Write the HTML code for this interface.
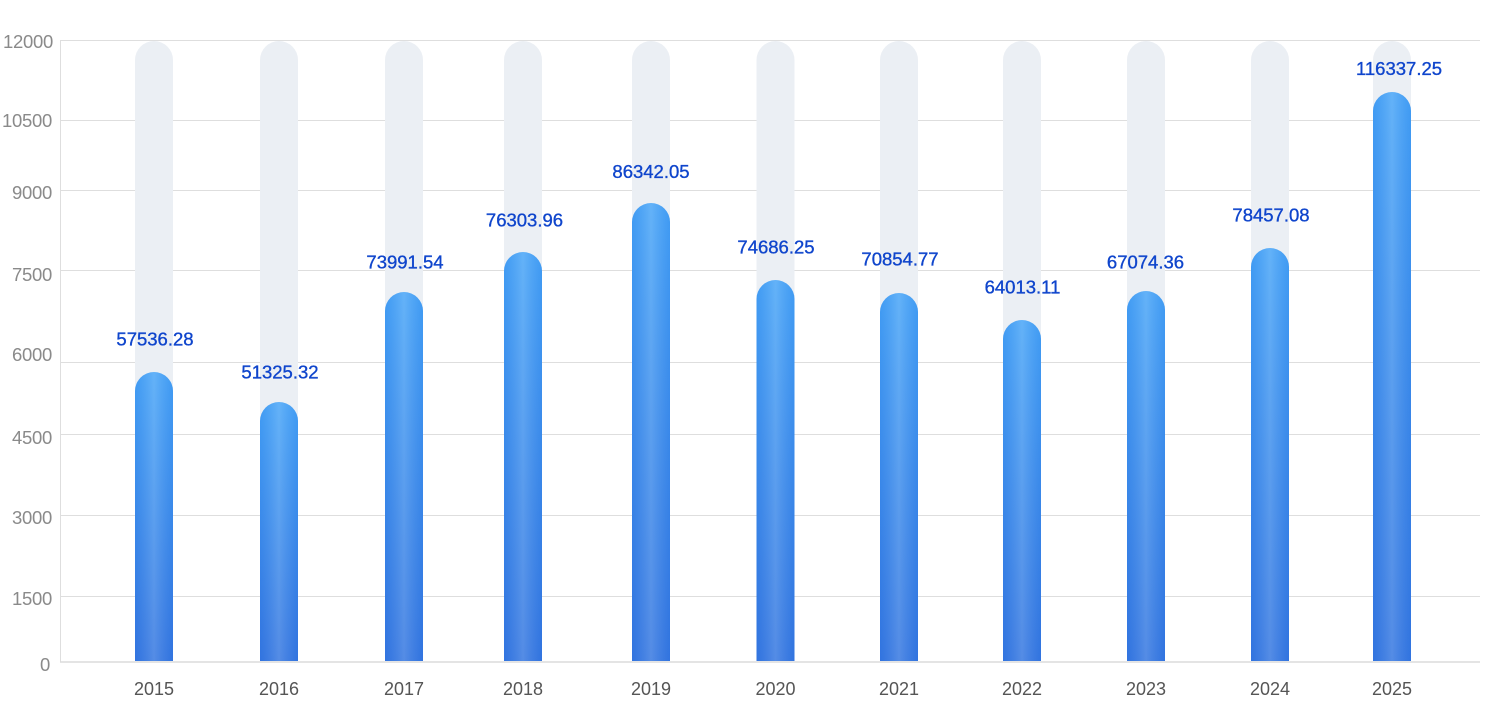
<!DOCTYPE html>
<html><head><meta charset="utf-8"><style>
html,body{margin:0;padding:0;background:#fff;}
svg{display:block;}
.yl{font-family:"Liberation Sans",sans-serif;font-size:18.5px;fill:#8a8a8a;letter-spacing:-0.3px;}
.xl{font-family:"Liberation Sans",sans-serif;font-size:18px;fill:#555;}
.vl{font-family:"Liberation Sans",sans-serif;font-size:18.5px;fill:#0f45cc;stroke:#0f45cc;stroke-width:0.35px;}
</style></head><body>
<svg width="1494" height="710" viewBox="0 0 1494 710" xmlns="http://www.w3.org/2000/svg">
<defs>
<linearGradient id="gv" x1="0" y1="0" x2="0" y2="1">
<stop offset="0" stop-color="#46a4f7"/>
<stop offset="1" stop-color="#3476e0"/>
</linearGradient>
<linearGradient id="gh" x1="0" y1="0" x2="1" y2="0">
<stop offset="0" stop-color="#1a5fd8" stop-opacity="0.12"/>
<stop offset="0.5" stop-color="#ffffff" stop-opacity="0.16"/>
<stop offset="1" stop-color="#1a5fd8" stop-opacity="0.12"/>
</linearGradient>
</defs>
<g stroke="#dedede" stroke-width="1">
<line x1="60" y1="40.5" x2="1480" y2="40.5"/>
<line x1="60" y1="120.5" x2="1480" y2="120.5"/>
<line x1="60" y1="190.5" x2="1480" y2="190.5"/>
<line x1="60" y1="270.5" x2="1480" y2="270.5"/>
<line x1="60" y1="362.5" x2="1480" y2="362.5"/>
<line x1="60" y1="434.5" x2="1480" y2="434.5"/>
<line x1="60" y1="515.5" x2="1480" y2="515.5"/>
<line x1="60" y1="596.5" x2="1480" y2="596.5"/>
<line x1="60.5" y1="40" x2="60.5" y2="662"/>
</g>
<g class="yl" text-anchor="end">
<text x="53" y="48">12000</text>
<text x="52" y="127">10500</text>
<text x="52" y="199">9000</text>
<text x="52" y="281">7500</text>
<text x="52" y="361">6000</text>
<text x="52" y="444">4500</text>
<text x="52" y="524">3000</text>
<text x="52" y="605">1500</text>
<text x="50" y="671">0</text>
</g>
<g id="bars"></g>
<line x1="60" y1="662" x2="1480" y2="662" stroke="#dcdcdc" stroke-width="1.5"/>
<g class="vl" text-anchor="middle" id="vals"></g>
<g class="xl" text-anchor="middle" id="years"></g>
</svg>
<script>
var d=[[135,372,155,339,"57536.28","2015"],[260,402,280,372,"51325.32","2016"],[385,292,405,262,"73991.54","2017"],[504,252,524.5,220,"76303.96","2018"],[632,203,651,171.5,"86342.05","2019"],[756.5,280,776,247,"74686.25","2020"],[880,293,900,259,"70854.77","2021"],[1003,320,1022.5,287,"64013.11","2022"],[1127,291,1145.5,262,"67074.36","2023"],[1251,248,1271,215,"78457.08","2024"],[1373,92,1399,68.5,"116337.25","2025"]];
var ns="http://www.w3.org/2000/svg",W=38,r=19,B=661;
var bars=document.getElementById("bars"),vals=document.getElementById("vals"),yrs=document.getElementById("years");
function p(x,t){return "M"+x+" "+B+"V"+(t+r)+"A"+r+" "+r+" 0 0 1 "+(x+W)+" "+(t+r)+"V"+B+"Z";}
d.forEach(function(e){
 var bg=document.createElementNS(ns,"path");bg.setAttribute("d",p(e[0],41));bg.setAttribute("fill","#ebeff4");bars.appendChild(bg);
 var b1=document.createElementNS(ns,"path");b1.setAttribute("d",p(e[0],e[1]));b1.setAttribute("fill","url(#gv)");bars.appendChild(b1);
 var b2=document.createElementNS(ns,"path");b2.setAttribute("d",p(e[0],e[1]));b2.setAttribute("fill","url(#gh)");bars.appendChild(b2);
 var t=document.createElementNS(ns,"text");t.setAttribute("x",e[2]);t.setAttribute("y",e[3]+6.5);t.textContent=e[4];vals.appendChild(t);
 var y=document.createElementNS(ns,"text");y.setAttribute("x",e[0]+W/2);y.setAttribute("y",695);y.textContent=e[5];yrs.appendChild(y);
});
</script>
</body></html>
